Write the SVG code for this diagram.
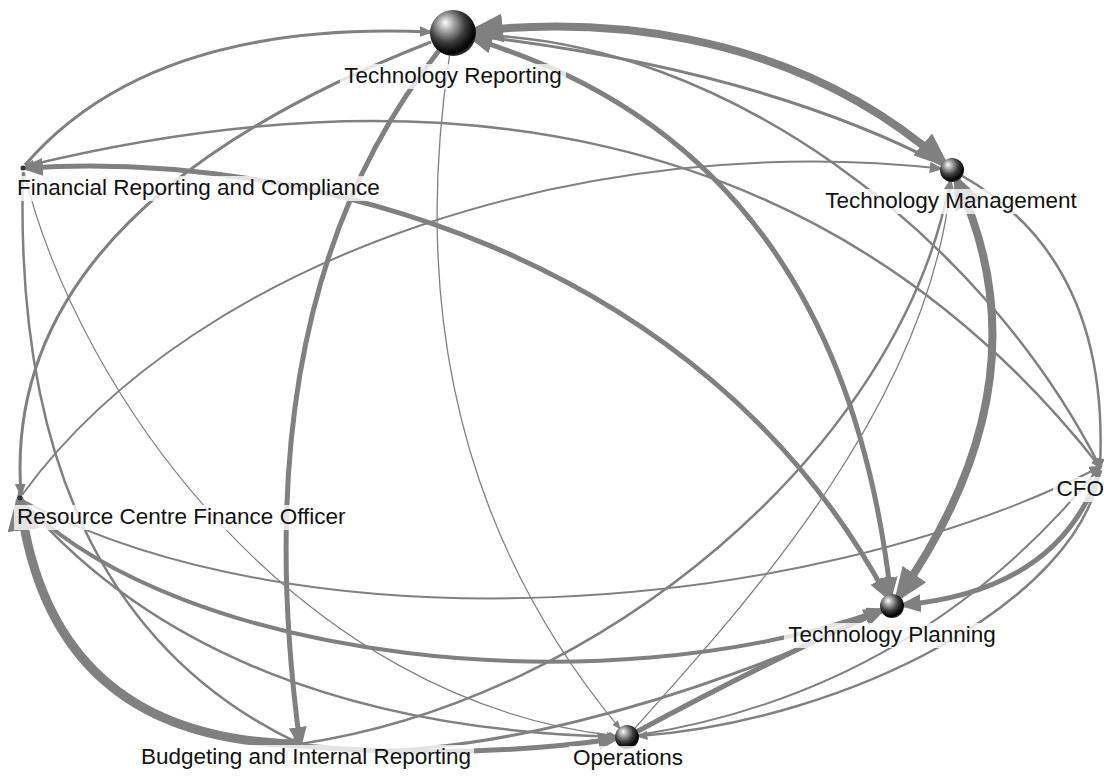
<svg xmlns="http://www.w3.org/2000/svg" width="1104" height="778" viewBox="0 0 1104 778">
<style>
.e{fill:none;stroke:#808080;marker-end:url(#ah)}
.t{fill:none;stroke:#808080;marker-end:url(#ahs)}
.b{marker-start:url(#ah)}
.lb{fill:#ffffff;fill-opacity:0.78}
.lt{font-family:"Liberation Sans",Arial,sans-serif;font-size:22.5px;fill:#111111}
</style>
<defs>
<marker id="ah" viewBox="0 0 10 8" refX="7.5" refY="4" markerWidth="4.5" markerHeight="3.6" markerUnits="strokeWidth" orient="auto-start-reverse"><path d="M0,0 L10,4 L0,8 z" fill="#808080"/></marker>
<marker id="ahs" viewBox="0 0 10 8" refX="7.5" refY="4" markerWidth="7" markerHeight="5.5" markerUnits="strokeWidth" orient="auto-start-reverse"><path d="M0,0 L10,4 L0,8 z" fill="#808080"/></marker>
<radialGradient id="sph" cx="0.4" cy="0.35" r="0.65" fx="0.33" fy="0.27">
<stop offset="0" stop-color="#ffffff"/>
<stop offset="0.22" stop-color="#b5b5b5"/>
<stop offset="0.6" stop-color="#3c3c3c"/>
<stop offset="0.92" stop-color="#000000"/>
<stop offset="1" stop-color="#2a2a2a"/>
</radialGradient>
</defs>
<rect width="1104" height="778" fill="#ffffff"/>
<g id="connectors">
<path class="e b" stroke-width="8" d="M475.9,30.7 C580,20 780,20 943,162.1"/>
<path class="e b" stroke-width="5" d="M475,39.7 Q840,150 890.6,594.1"/>
<path class="e" stroke-width="5" d="M438.7,51 Q240,300 300,744"/>
<path class="t" stroke-width="1.3" d="M449.5,55.7 C420,250 430,500 619.3,727.8"/>
<path class="e" stroke-width="3" d="M431,42 Q0,210 21,494"/>
<path class="e" stroke-width="3" d="M25,165 Q150,20 430,32"/>
<path class="e b" stroke-width="5" d="M26,168 C300,150 700,250 886.3,595.4"/>
<path class="e b" stroke-width="2.5" d="M26,166 C420,70 820,110 1100,467"/>
<path class="t" stroke-width="2" d="M22,495 C200,250 600,130 940.1,168.6"/>
<path class="t" stroke-width="1.2" d="M24,172 C80,400 300,700 615,735.7"/>
<path class="e" stroke-width="2.5" d="M23,172 C15,450 100,650 300,744"/>
<path class="e" stroke-width="9" d="M300,744 Q50,740 20,500"/>
<path class="e" stroke-width="2.5" d="M22,500 C150,650 350,730 615,736.7"/>
<path class="e" stroke-width="4" d="M22,502 C180,660 600,710 880.7,610"/>
<path class="t" stroke-width="2" d="M22,500 C300,650 800,620 1100,467"/>
<path class="e" stroke-width="2.5" d="M300,744 C600,700 900,450 949.8,181.8"/>
<path class="t" stroke-width="1.3" d="M635,728 C750,600 930,400 950.9,181.9"/>
<path class="e b" stroke-width="8" d="M957.1,180.9 Q1050,380 898.9,596.2"/>
<path class="e" stroke-width="5" d="M1100,470 Q1060,590 903.9,604.9"/>
<path class="e" stroke-width="5" d="M637.6,731.3 Q770,660 881,610.9"/>
<path class="e" stroke-width="5" d="M303,746 Q470,760 615.1,738.7"/>
<path class="e" stroke-width="3" d="M300,746 C450,770 700,700 881.2,611.3"/>
<path class="e" stroke-width="2.5" d="M1100,470 C1080,600 850,720 639,736.1"/>
<path class="t" stroke-width="2" d="M638.8,735.1 Q920,690 1100,467"/>
<path class="e" stroke-width="3" d="M941.5,164.5 Q760,70 476,36"/>
<path class="e" stroke-width="2.5" d="M476,35 C720,40 980,230 1100,467"/>
<path class="e" stroke-width="2.5" d="M962.4,176 Q1110,260 1100,467"/>
</g>
<g id="node-technology-reporting">
<circle cx="453" cy="33" r="23" fill="url(#sph)"/>
<rect class="lb" x="340" y="64" width="226" height="25"/>
<text class="lt" x="453" y="83" text-anchor="middle">Technology Reporting</text>
</g>
<g id="node-technology-management">
<circle cx="952" cy="170" r="12" fill="url(#sph)"/>
<rect class="lb" x="822" y="189" width="260" height="25"/>
<text class="lt" x="951" y="208" text-anchor="middle">Technology Management</text>
</g>
<g id="node-financial-reporting">
<circle cx="23" cy="168" r="2.5" fill="#333333"/>
<rect class="lb" x="14" y="176" width="370" height="25"/>
<text class="lt" x="17" y="195">Financial Reporting and Compliance</text>
</g>
<g id="node-resource-centre">
<circle cx="20" cy="498" r="2.5" fill="#333333"/>
<rect class="lb" x="14" y="505" width="336" height="25"/>
<text class="lt" x="17" y="524">Resource Centre Finance Officer</text>
</g>
<g id="node-cfo">
<rect class="lb" x="1053" y="477" width="51" height="25"/>
<text class="lt" x="1104" y="496" text-anchor="end">CFO</text>
</g>
<g id="node-technology-planning">
<circle cx="892" cy="606" r="12" fill="url(#sph)"/>
<rect class="lb" x="784" y="623" width="216" height="25"/>
<text class="lt" x="892" y="642" text-anchor="middle">Technology Planning</text>
</g>
<g id="node-operations">
<circle cx="627" cy="737" r="12" fill="url(#sph)"/>
<rect class="lb" x="569" y="746" width="118" height="25"/>
<text class="lt" x="628" y="765" text-anchor="middle">Operations</text>
</g>
<g id="node-budgeting">
<rect class="lb" x="138" y="745" width="336" height="25"/>
<text class="lt" x="306" y="764" text-anchor="middle">Budgeting and Internal Reporting</text>
</g>
</svg>
